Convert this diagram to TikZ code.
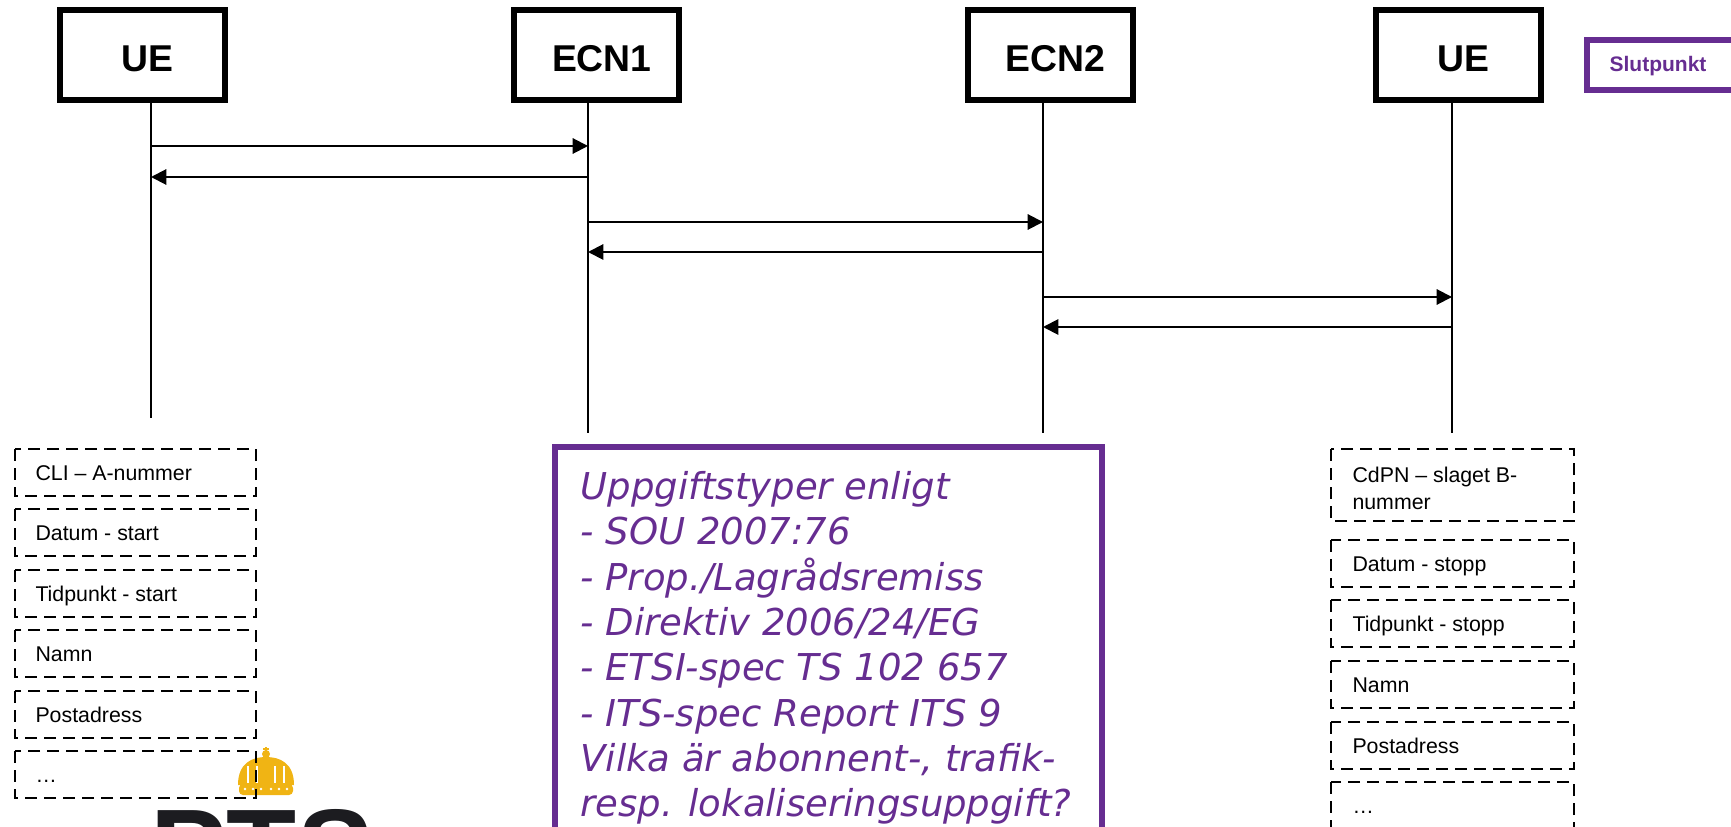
\documentclass[tikz,border=0pt]{standalone}
\usepackage{fontspec}
\setmainfont{Liberation Sans}
\newfontfamily\verdfont{DejaVu Sans}
\usetikzlibrary{arrows.meta}

\definecolor{ptspurple}{RGB}{102,45,145}
\definecolor{crowngold}{RGB}{240,180,20}
\definecolor{logoblack}{RGB}{28,28,32}

\tikzset{every picture/.style={line width=0.75pt}}
\tikzset{
  entity/.style={draw, line width=4.5pt, minimum width=123.75pt, minimum height=67.5pt, inner sep=0pt},
  tag/.style={inner sep=0pt, xshift=4pt, yshift=-3pt, font=\fontsize{28}{34}\selectfont\bfseries},
  life/.style={line width=1.5pt},
  msg/.style={line width=1.5pt, -{Triangle[length=11.5pt, width=11.5pt]}},
  field/.style={line width=1.5pt, dash pattern=on 9pt off 5.25pt},
  fieldtext/.style={inner sep=0pt, font=\fontsize{16}{19.5}\selectfont, align=left},
  ptsline/.style={draw=ptspurple, line width=4.5pt},
  notetext/.style={inner sep=0pt, text=ptspurple, align=left, font=\verdfont\itshape\fontsize{27.75}{34}\selectfont},
  endpoint/.style={inner sep=0pt, text=ptspurple, font=\fontsize{15.75}{19}\selectfont\bfseries}
}

\begin{document}
\begin{tikzpicture}[x=0.75pt,y=0.75pt,yscale=-1,xscale=1]
\useasboundingbox (0,0) rectangle (1731,827);

%Logo: crown
\begin{scope}[shift={(0,4)}]
\fill[crowngold] (238,781) .. controls (238,759) and (252,753) .. (266,753) .. controls (280,753) and (294,759) .. (294,781) -- cycle ;
\fill[crowngold, rounded corners=3pt] (239,780) rectangle (293,791) ;
\fill[crowngold] (266,750) circle (4) ;
\draw[crowngold, line width=2pt] (266,743) -- (266,748) (263,745) -- (269,745) ;
\foreach \x in {248,257,275,284} {
  \draw[white, line width=1.2pt] (\x,762) -- (\x,779) ;
}
\foreach \x in {245,253,261,271,279,287} {
  \fill[white] (\x,785) circle (1.4) ;
}
\end{scope}
%Logo: letters
\node[anchor=north west, inner sep=0pt, text=logoblack, font=\fontsize{86}{90}\selectfont\bfseries] (logo) at (150,809) {PTS};

%Entity boxes
\node[entity, label={[tag]center:UE}] (ueA) at (142.5,55) {};
\node[entity, label={[tag]center:ECN1}] (ecnA) at (596.5,55) {};
\node[entity, label={[tag]center:ECN2}] (ecnB) at (1050,55) {};
\node[entity, label={[tag]center:UE}] (ueB) at (1458.5,55) {};

%Slutpunkt
\draw[ptsline] (1587,40) rectangle (1745,90) ;
\node[endpoint] (slut) at (1658,66) {Slutpunkt};

%Lifelines
\coordinate (lA) at (151,103);
\coordinate (lB) at (588,103);
\coordinate (lC) at (1043,103);
\coordinate (lD) at (1452,103);
\draw[life] (lA) -- (lA |- 0,418) ;
\foreach \c in {lB,lC,lD} {
  \draw[life] (\c) -- (\c |- 0,433) ;
}

%Messages
\foreach \f/\t/\y in {lA/lB/146, lB/lA/177, lB/lC/222, lC/lB/252, lC/lD/297, lD/lC/327} {
  \draw[msg] (\f |- 0,\y) -- (\t |- 0,\y) ;
}

%Left fields
\foreach \t/\txt [count=\i] in {449/{CLI – A-nummer}, 509/{Datum - start}, 570/{Tidpunkt - start}, 630/{Namn}, 691/{Postadress}, 751/{…}} {
  \draw[field] (15,\t) rectangle ++(241,47) ;
  \node[fieldtext, anchor=base west] (fa\i) at (35,\t+31) {\txt};
}

%Right fields
\draw[field] (1331,449) rectangle (1574,521) ;
\node[fieldtext, anchor=north west, font=\fontsize{16}{19.75}\selectfont] (fb0) at (1352,467) {CdPN – slaget B-\\nummer};
\foreach \t/\txt [count=\i] in {540/{Datum - stopp}, 600/{Tidpunkt - stopp}, 661/{Namn}, 722/{Postadress}, 782/{…}} {
  \draw[field] (1331,\t) rectangle ++(243,47) ;
  \node[fieldtext, anchor=base west] (fb\i) at (1352,\t+31) {\txt};
}

%Note box
\draw[ptsline] (555,447) rectangle (1102,850) ;
\node[notetext, anchor=north west] (note) at (580,471) {Uppgiftstyper enligt\\- SOU 2007:76\\- Prop./Lagrådsremiss\\- Direktiv 2006/24/EG\\- ETSI-spec TS 102 657\\- ITS-spec Report ITS 9\\Vilka är abonnent-, trafik-\\resp. lokaliseringsuppgift?};

\end{tikzpicture}
\end{document}
